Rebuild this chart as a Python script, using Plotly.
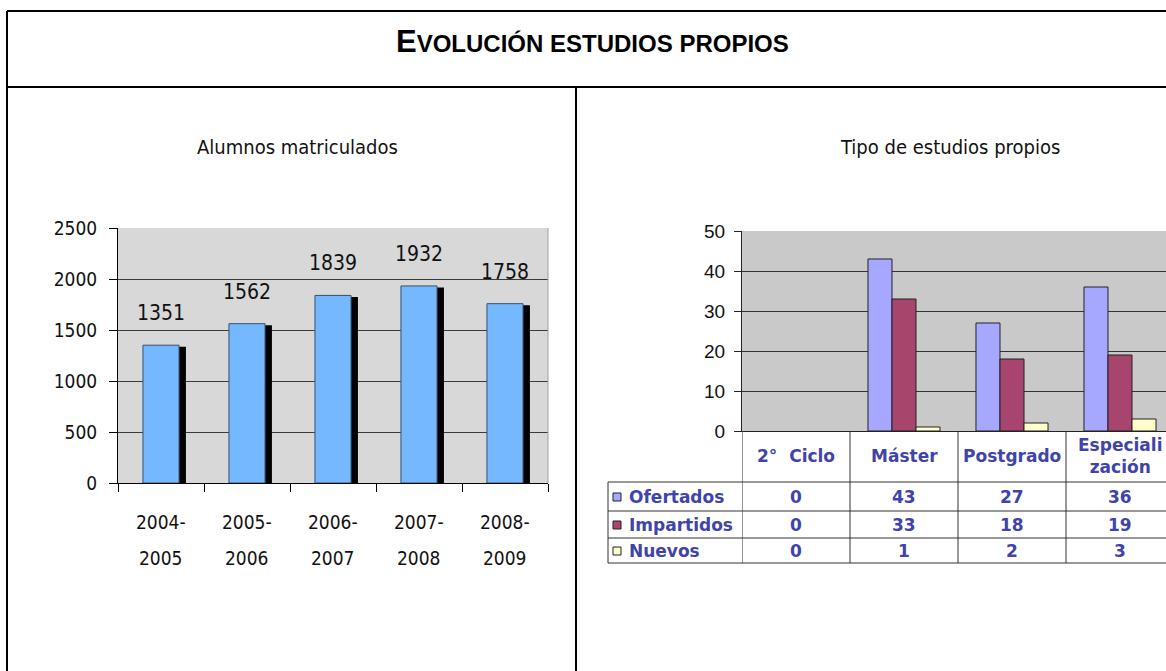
import plotly.graph_objects as go

W, H = 1166, 671

# ---------------- data ----------------
years = ["2004-2005", "2005-2006", "2006-2007", "2007-2008", "2008-2009"]
alumnos = [1351, 1562, 1839, 1932, 1758]

tipos = ["2° Ciclo", "Máster", "Postgrado", "Especialización"]
tipos_header = ["2°  Ciclo", "Máster", "Postgrado", "Especiali<br>zación"]
series_names = ["Ofertados", "Impartidos", "Nuevos"]
ofertados = [0, 43, 27, 36]
impartidos = [0, 33, 18, 19]
nuevos = [0, 1, 2, 3]
series_values = [ofertados, impartidos, nuevos]
series_colors = ["#A6A8FF", "#A8456F", "#FFFFCC"]

main_title_first = "E"
main_title_rest = "VOLUCIÓN ESTUDIOS PROPIOS"
left_title = "Alumnos matriculados"
right_title = "Tipo de estudios propios"

NARROW = "DejaVu Sans Condensed, Liberation Sans Narrow, sans-serif"
REG = "Liberation Sans, Arial, sans-serif"
TABLE_FONT = "DejaVu Sans, Verdana, sans-serif"
TBLUE = "#3F44AA"
TXT = "#111111"


def px(x):
    return x / W


def py(y):
    return 1 - y / H


fig = go.Figure()

# ---------------- left chart ----------------
fig.add_trace(go.Bar(
    x=years, y=alumnos, base=-16, width=0.42, offset=-0.21 + 0.08,
    marker=dict(color="black", line=dict(width=0)),
    xaxis="x", yaxis="y", showlegend=False, hoverinfo="skip"))
fig.add_trace(go.Bar(
    x=years, y=alumnos, width=0.42, offset=-0.21,
    marker=dict(color="#75B8FF", line=dict(color="#34506E", width=1)),
    xaxis="x", yaxis="y", showlegend=False))

annotations = []
for yr, v in zip(years, alumnos):
    annotations.append(dict(x=yr, y=v, xref="x", yref="y", text=str(v),
                            showarrow=False, xanchor="center", yanchor="middle", yshift=32,
                            font=dict(family=NARROW, size=21, color=TXT)))
    a, b = yr.split("-")
    annotations.append(dict(x=yr, y=py(522), xref="x", yref="paper", text=a + "-",
                            showarrow=False, xanchor="center", yanchor="middle",
                            font=dict(family=NARROW, size=19, color=TXT)))
    annotations.append(dict(x=yr, y=py(558), xref="x", yref="paper", text=b,
                            showarrow=False, xanchor="center", yanchor="middle",
                            font=dict(family=NARROW, size=19, color=TXT)))

# ---------------- right chart ----------------
for name, vals, col in zip(series_names, series_values, series_colors):
    fig.add_trace(go.Bar(
        x=tipos, y=vals, name=name,
        marker=dict(color=col, line=dict(color="#222", width=[0 if v == 0 else 1 for v in vals])),
        xaxis="x2", yaxis="y2", showlegend=False))

TF = dict(family=TABLE_FONT, size=17, color=TBLUE, weight="bold")
# table text
for cat, hdr in zip(tipos, tipos_header):
    annotations.append(dict(x=cat, y=py(456), xref="x2", yref="paper", text=hdr,
                            showarrow=False, xanchor="center", yanchor="middle", font=TF))
row_centers = [497, 525, 551]
for r, (name, vals) in enumerate(zip(series_names, series_values)):
    yc = row_centers[r]
    annotations.append(dict(x=px(627), y=py(yc), xref="paper", yref="paper", text=name,
                            showarrow=False, xanchor="left", yanchor="middle", font=TF))
    for cat, v in zip(tipos, vals):
        annotations.append(dict(x=cat, y=py(yc), xref="x2", yref="paper", text=str(v),
                                showarrow=False, xanchor="center", yanchor="middle", font=TF))

# titles
annotations.append(dict(x=px(592), y=py(41), xref="paper", yref="paper",
                        text="<span style='font-size:31px'>" + main_title_first + "</span>"
                             + main_title_rest,
                        showarrow=False, xanchor="center", yanchor="middle",
                        font=dict(family=REG, size=24, color="black", weight="bold")))
annotations.append(dict(x=px(297), y=py(147), xref="paper", yref="paper", text=left_title,
                        showarrow=False, xanchor="center", yanchor="middle",
                        font=dict(family=NARROW, size=20, color=TXT)))
annotations.append(dict(x=px(950), y=py(147), xref="paper", yref="paper", text=right_title,
                        showarrow=False, xanchor="center", yanchor="middle",
                        font=dict(family=NARROW, size=20, color=TXT)))

shapes = []
LINE = dict(color="black", width=2)
# outer frame
shapes.append(dict(type="line", xref="paper", yref="paper", x0=px(7), x1=1.0, y0=py(11), y1=py(11), line=LINE))
shapes.append(dict(type="line", xref="paper", yref="paper", x0=px(7), x1=px(7), y0=py(11), y1=0, line=LINE))
shapes.append(dict(type="line", xref="paper", yref="paper", x0=px(7), x1=1.0, y0=py(87), y1=py(87), line=LINE))
shapes.append(dict(type="line", xref="paper", yref="paper", x0=px(576), x1=px(576), y0=py(87), y1=0, line=LINE))

# right plot background
shapes.append(dict(type="rect", xref="x2 domain", yref="y2 domain", x0=0, x1=1, y0=0, y1=1,
                   fillcolor="#C9C9C9", line=dict(width=0), layer="below"))
# left plot light right border
shapes.append(dict(type="line", xref="x domain", yref="y domain", x0=1, x1=1, y0=0, y1=1,
                   line=dict(color="#A0A0A0", width=1)))

# table lines
TL = dict(color="#333", width=1)
for yy in [482, 511, 538, 563]:
    shapes.append(dict(type="line", xref="paper", yref="paper", x0=px(608), x1=1.0,
                       y0=py(yy), y1=py(yy), line=TL))
shapes.append(dict(type="line", xref="paper", yref="paper", x0=px(608), x1=px(608),
                   y0=py(482), y1=py(563), line=TL))
for b in [-0.5, 0.5, 1.5, 2.5]:
    shapes.append(dict(type="line", xref="x2", yref="paper", x0=b, x1=b,
                       y0=py(431), y1=py(563), line=TL))
# legend keys
for r, col in enumerate(series_colors):
    yc = row_centers[r]
    shapes.append(dict(type="rect", xref="paper", yref="paper",
                       x0=px(613), x1=px(621), y0=py(yc - 4), y1=py(yc + 4),
                       fillcolor=col, line=dict(color="#222", width=1)))

fig.update_layout(
    width=W, height=H, autosize=False,
    margin=dict(l=0, r=0, t=0, b=0, pad=0, autoexpand=False),
    paper_bgcolor="white",
    plot_bgcolor="#D8D8D8",
    barmode="group", bargap=0.333, bargroupgap=0,
    showlegend=False,
    annotations=annotations,
    shapes=shapes,
    xaxis=dict(domain=[px(118), px(548)], anchor="y", type="category", automargin=False,
               range=[-0.5, 4.5], tickson="boundaries", ticks="outside", ticklen=8,
               tickcolor="black", showticklabels=False, showgrid=False,
               showline=True, linecolor="black", linewidth=1),
    yaxis=dict(domain=[py(483), py(228)], anchor="x", range=[0, 2500], dtick=500,
               automargin=False, ticklabelstandoff=8,
               showgrid=True, gridcolor="#3a3a3a", gridwidth=1, zeroline=False,
               showline=True, linecolor="black", linewidth=1,
               ticks="outside", ticklen=8, tickcolor="black",
               tickfont=dict(family=NARROW, size=19, color=TXT)),
    xaxis2=dict(domain=[px(742), 1.0], anchor="y2", type="category", automargin=False,
                range=[-0.5, 3.5 - 8 / 108], showticklabels=False, ticks="",
                showgrid=False, showline=True, linecolor="#222", linewidth=1),
    yaxis2=dict(domain=[py(431), py(231)], anchor="x2", range=[0, 50], dtick=10,
                automargin=False, ticklabelstandoff=5,
                showgrid=True, gridcolor="#333", gridwidth=1, zeroline=False,
                showline=True, linecolor="#222", linewidth=1,
                ticks="outside", ticklen=7, tickcolor="#222",
                tickfont=dict(family=REG, size=19, color=TXT)),
)

fig.write_html("out.html",
               config={"displayModeBar": False},
               post_script="document.body.style.margin='0px';"
                           "document.body.style.overflow='hidden';")
